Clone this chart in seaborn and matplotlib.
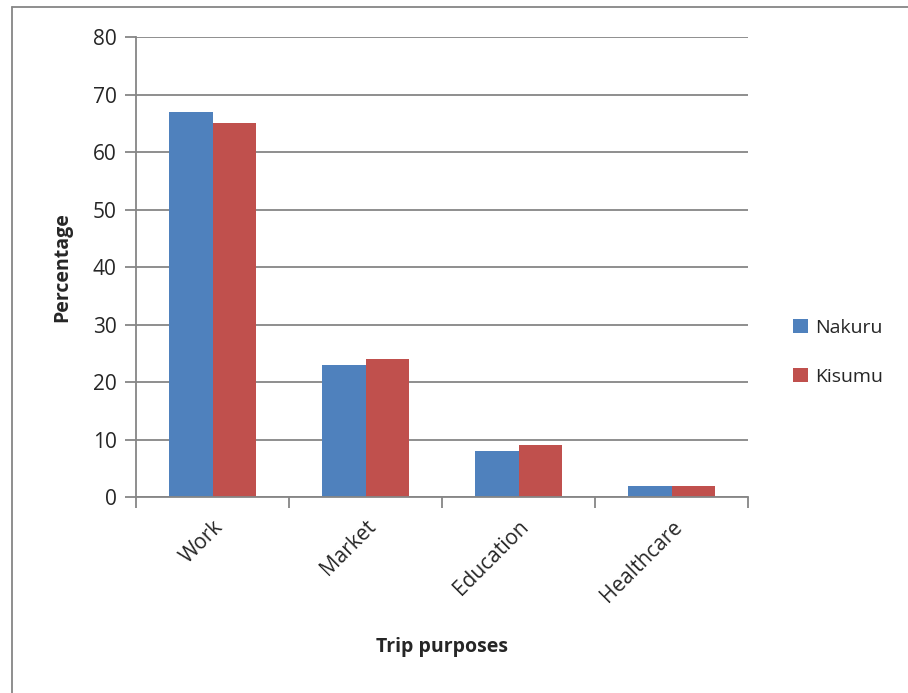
import pandas as pd
import seaborn as sns
import matplotlib.pyplot as plt
from matplotlib.lines import Line2D

purposes = ['Work', 'Market', 'Education', 'Healthcare']
nakuru = [67, 23, 8, 2]
kisumu = [65, 24, 9, 2]
towns = ['Nakuru', 'Kisumu']

df = pd.DataFrame({
    'purpose': purposes * 2,
    'town': [towns[0]] * len(purposes) + [towns[1]] * len(purposes),
    'value': nakuru + kisumu,
})

sns.set_style('white')
plt.rcParams['font.family'] = ['Open Sans', 'DejaVu Sans']

grey = '#868686'
fig = plt.figure(figsize=(9.08, 6.93), dpi=100)
ax = fig.add_axes([0.1498, 0.2828, 0.674, 0.6638])

sns.barplot(data=df, x='purpose', y='value', hue='town', order=purposes,
            hue_order=towns, palette=['#4F81BD', '#C0504D'], width=0.57,
            saturation=1, ax=ax, edgecolor='none', legend=True)

ax.set_ylim(0, 80)
ax.set_yticks(range(0, 81, 10))
ax.set_xlim(-0.5, len(purposes) - 0.5)
ax.yaxis.grid(True, color=grey, linewidth=1.3)
ax.set_axisbelow(True)
for s in ['top', 'right']:
    ax.spines[s].set_visible(False)
for s in ['left', 'bottom']:
    ax.spines[s].set_color(grey)
    ax.spines[s].set_linewidth(1.3)

# x ticks sit on category boundaries, labels centered on categories
ax.set_xticks([i - 0.5 for i in range(len(purposes) + 1)])
ax.set_xticklabels([])
ax.set_xticks(range(len(purposes)), minor=True)
ax.set_xticklabels(purposes, minor=True, rotation=45, ha='right',
                   rotation_mode='anchor', fontsize=15)
ax.tick_params(axis='x', which='major', direction='out', length=8, width=1.3,
               color=grey, bottom=True)
ax.tick_params(axis='x', which='minor', length=0, pad=14)
ax.tick_params(axis='y', direction='out', length=8, width=1.3, color=grey,
               left=True, labelsize=15, pad=6)

ax.set_xlabel('Trip purposes', fontsize=14, fontweight='bold', labelpad=22)
ax.set_ylabel('Percentage', fontsize=14, fontweight='bold', labelpad=15)

leg = ax.legend(loc='center left', bbox_to_anchor=(1.045, 0.315), frameon=False,
                fontsize=14, handlelength=0.75, handleheight=0.75,
                labelspacing=1.6, handletextpad=0.4)

# chart frame (left and top edges visible in the reference)
fig.add_artist(Line2D([12 / 908, 12 / 908], [0, 1 - 7 / 693], color=grey, linewidth=1.3))
fig.add_artist(Line2D([12 / 908, 1], [1 - 7 / 693, 1 - 7 / 693], color=grey, linewidth=1.3))

fig.savefig('out.png', dpi=100)
